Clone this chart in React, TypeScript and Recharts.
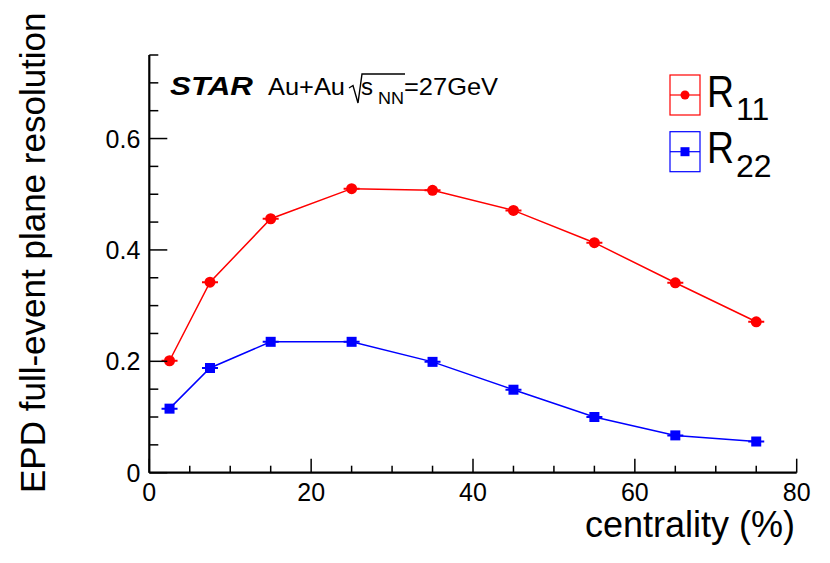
import { LineChart, Line, XAxis, YAxis, Legend } from "recharts";

// centrality bin centres (%) and resolution values
const centrality = [2.5, 7.5, 15, 25, 35, 45, 55, 65, 75];
const r11 = [0.201, 0.342, 0.456, 0.51, 0.507, 0.471, 0.413, 0.341, 0.271];
const r22 = [0.115, 0.188, 0.235, 0.235, 0.199, 0.149, 0.1, 0.067, 0.056];

const xTicks = [0, 5, 10, 15, 20, 25, 30, 35, 40, 45, 50, 55, 60, 65, 70, 75, 80];
const xMajor = [0, 20, 40, 60, 80];
const yTicks = [0, 0.05, 0.1, 0.15, 0.2, 0.25, 0.3, 0.35, 0.4, 0.45, 0.5, 0.55, 0.6, 0.65, 0.7, 0.75];
const yMajor = [0, 0.2, 0.4, 0.6];
const yMajorLabels = ["0", "0.2", "0.4", "0.6"];

const seriesNames = ["11", "22"];
const seriesColors = ["#ff0000", "#0000ff"];

const data = centrality.map((c, i) => ({ c, r11: r11[i], r22: r22[i] }));

const FONT = "'Liberation Sans', Arial, Helvetica, sans-serif";

const isMajor = (list: number[], v: number) => list.some((m) => Math.abs(m - v) < 1e-6);

const bottomTick = (p: any) => {
  const v = p.payload.value;
  const major = isMajor(xMajor, v);
  return (
    <g>
      <line x1={p.x} x2={p.x} y1={p.y} y2={p.y - (major ? 14 : 7)} stroke="#000" strokeWidth={1.5} />
      {major && (
        <text x={p.x} y={p.y + 28} textAnchor="middle" fontSize={25} fontFamily={FONT} fill="#000">
          {String(v)}
        </text>
      )}
    </g>
  );
};

const topTick = (p: any) => {
  const v = p.payload.value;
  const major = isMajor(xMajor, v);
  return <line x1={p.x} x2={p.x} y1={p.y} y2={p.y + (major ? 14 : 7)} stroke="#000" strokeWidth={1.5} />;
};

const leftTick = (p: any) => {
  const v = p.payload.value;
  const idx = yMajor.findIndex((m) => Math.abs(m - v) < 1e-6);
  const major = idx >= 0;
  return (
    <g>
      <line x1={p.x} x2={p.x + (major ? 18 : 9)} y1={p.y} y2={p.y} stroke="#000" strokeWidth={1.5} />
      {major && (
        <text x={p.x - 9} y={p.y + 9} textAnchor="end" fontSize={25} fontFamily={FONT} fill="#000">
          {yMajorLabels[idx]}
        </text>
      )}
    </g>
  );
};

const rightTick = (p: any) => {
  const v = p.payload.value;
  const major = isMajor(yMajor, v);
  return <line x1={p.x} x2={p.x - (major ? 18 : 9)} y1={p.y} y2={p.y} stroke="#000" strokeWidth={1.5} />;
};

const circleDot = (p: any) => {
  if (p.cx == null || p.cy == null) return <g key={p.index} />;
  return (
    <g key={p.index}>
      <line x1={p.cx - 8} x2={p.cx + 8} y1={p.cy} y2={p.cy} stroke={seriesColors[0]} strokeWidth={2} />
      <circle cx={p.cx} cy={p.cy} r={5.5} fill={seriesColors[0]} />
    </g>
  );
};

const squareDot = (p: any) => {
  if (p.cx == null || p.cy == null) return <g key={p.index} />;
  return (
    <g key={p.index}>
      <line x1={p.cx - 8} x2={p.cx + 8} y1={p.cy} y2={p.cy} stroke={seriesColors[1]} strokeWidth={2} />
      <rect x={p.cx - 5} y={p.cy - 5} width={10} height={10} fill={seriesColors[1]} />
    </g>
  );
};

const LegendBox = () => (
  <svg width={830} height={563} style={{ position: "absolute", left: 0, top: 0 }}>
    {seriesNames.map((n, i) => {
      const top = 75 + i * 56.7;
      const cx = 685;
      const cy = top + 20;
      return (
        <g key={n}>
          <rect x={670} y={top} width={30} height={40} fill="none" stroke={seriesColors[i]} strokeWidth={1.2} />
          <line x1={670} x2={700} y1={cy} y2={cy} stroke={seriesColors[i]} strokeWidth={1.2} />
          {i === 0 ? (
            <circle cx={cx} cy={cy} r={4.5} fill={seriesColors[i]} />
          ) : (
            <rect x={cx - 4.5} y={cy - 4.5} width={9} height={9} fill={seriesColors[i]} />
          )}
          <text x={707} y={top + 31.7} fontSize={44} fontFamily={FONT} fill="#000" textLength={27} lengthAdjust="spacingAndGlyphs">
            R
          </text>
          <text x={736} y={top + 45} fontSize={32} fontFamily={FONT} fill="#000">
            {n}
          </text>
        </g>
      );
    })}
  </svg>
);

export default function App() {
  return (
    <div style={{ position: "absolute", left: 0, top: 0, width: 830, height: 563, background: "#fff" }}>
      <LineChart
        width={830}
        height={563}
        data={data}
        margin={{ top: 55, right: 33.3, bottom: 60.3, left: 89.3 }}
      >
        <XAxis
          dataKey="c"
          type="number"
          domain={[0, 80]}
          ticks={xTicks}
          interval={0}
          height={30}
          tickSize={0}
          tickMargin={0}
          tick={bottomTick}
          axisLine={{ stroke: "#000", strokeWidth: 2.2 }}
          allowDataOverflow
        />
        <XAxis
          xAxisId="top"
          orientation="top"
          type="number"
          domain={[0, 80]}
          ticks={xTicks}
          interval={0}
          height={0}
          tickSize={0}
          tickMargin={0}
          tick={topTick}
          axisLine={{ stroke: "#000", strokeWidth: 2.2 }}
          allowDataOverflow
        />
        <YAxis
          type="number"
          domain={[0, 0.75]}
          ticks={yTicks}
          interval={0}
          width={60}
          tickSize={0}
          tickMargin={0}
          tick={leftTick}
          axisLine={{ stroke: "#000", strokeWidth: 2.2 }}
          allowDataOverflow
        />
        <YAxis
          yAxisId="right"
          orientation="right"
          type="number"
          domain={[0, 0.75]}
          ticks={yTicks}
          interval={0}
          width={0}
          tickSize={0}
          tickMargin={0}
          tick={rightTick}
          axisLine={{ stroke: "#000", strokeWidth: 2.2 }}
          allowDataOverflow
        />
        <Line
          dataKey="r11"
          name="R11"
          stroke={seriesColors[0]}
          strokeWidth={1.5}
          dot={circleDot}
          activeDot={false}
          isAnimationActive={false}
        />
        <Line
          dataKey="r22"
          name="R22"
          stroke={seriesColors[1]}
          strokeWidth={1.5}
          dot={squareDot}
          activeDot={false}
          isAnimationActive={false}
        />
        <Legend
          layout="vertical"
          align="center"
          verticalAlign="middle"
          wrapperStyle={{ left: 0, top: 0, width: 830, height: 563, pointerEvents: "none" }}
          content={() => <LegendBox />}
        />
      </LineChart>
      <svg
        width={830}
        height={563}
        style={{ position: "absolute", left: 0, top: 0, pointerEvents: "none" }}
        fontFamily={FONT}
      >
        <text x={170} y={95} fontSize={26} fontWeight="bold" fontStyle="italic" textLength={83} lengthAdjust="spacingAndGlyphs" fill="#000">
          STAR
        </text>
        <text x={268} y={95} fontSize={24} textLength={77} lengthAdjust="spacingAndGlyphs" fill="#000">
          Au+Au
        </text>
        <path d="M349 88 L353 85.5 L358 103 L362 74 L405 74" fill="none" stroke="#000" strokeWidth={1.4} />
        <text x={361} y={95} fontSize={24} fill="#000">
          s
        </text>
        <text x={378} y={104} fontSize={17} textLength={26} lengthAdjust="spacingAndGlyphs" fill="#000">
          NN
        </text>
        <text x={404} y={95} fontSize={24} textLength={94} lengthAdjust="spacingAndGlyphs" fill="#000">
          =27GeV
        </text>
        <text x={795} y={537} fontSize={36} textAnchor="end" fill="#000">
          centrality (%)
        </text>
        <text
          transform="translate(45,493) rotate(-90)"
          x={0}
          y={0}
          fontSize={35}
          textAnchor="start"
          fill="#000"
        >
          EPD full-event plane resolution
        </text>
      </svg>
    </div>
  );
}
